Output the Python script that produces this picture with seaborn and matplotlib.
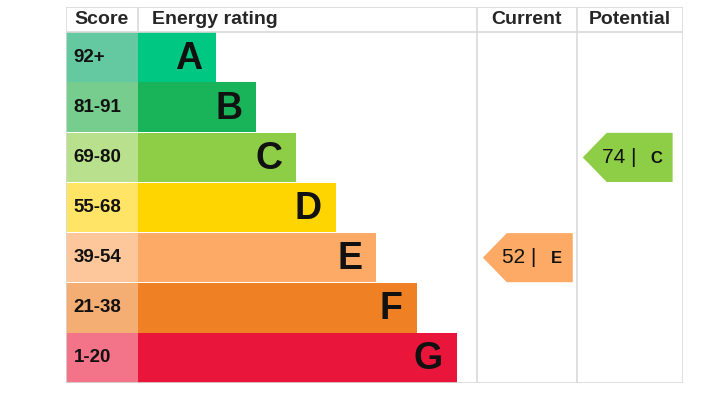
import matplotlib
matplotlib.use('Agg')
import matplotlib.pyplot as plt
import seaborn as sns
import pandas as pd
from matplotlib.patches import Polygon

# EPC bands, top (best) to bottom (worst)
bands = ['A', 'B', 'C', 'D', 'E', 'F', 'G']
score_ranges = ['92+', '81-91', '69-80', '55-68', '39-54', '21-38', '1-20']
bar_lengths = [1.95, 2.95, 3.95, 4.95, 5.95, 6.97, 7.97]
bar_colors = ['#00c781', '#19b459', '#8dce46', '#ffd500', '#fcaa65', '#ef8023', '#e9153b']
score_colors = ['#64c9a1', '#76cd8d', '#b9e08c', '#ffe466', '#fdc79b', '#f4ad72', '#f37488']

current_score, current_band = 52, 'E'
potential_score, potential_band = 74, 'C'

# layout (1 x-unit = 40 px, 1 y-unit = one band row)
score_w = 1.8
cur_left, pot_left, right_edge = 8.475, 10.975, 13.625
grid_col = '#d9d9d9'

sns.set_style('white')
plt.rcParams['font.family'] = ['Liberation Sans', 'DejaVu Sans']

fig = plt.figure(figsize=(7.03, 4.09), dpi=100)
ax = fig.add_axes([66 / 703, 26 / 409, 617 / 703, 376 / 409])

df = pd.DataFrame({'band': bands, 'length': bar_lengths, 'score': score_ranges})
df['score_cell'] = -score_w

sns.barplot(data=df, x='length', y='band', hue='band', palette=bar_colors,
            orient='h', width=0.99, saturation=1, legend=False, linewidth=0, ax=ax)
sns.barplot(data=df, x='score_cell', y='band', hue='band', palette=score_colors,
            orient='h', width=0.99, saturation=1, legend=False, linewidth=0, ax=ax)

for i, row in df.iterrows():
    ax.text(row['length'] - 0.35, i + 0.03, row['band'], ha='right', va='center',
            fontsize=27, fontweight='bold', color='#111111')
    ax.text(-score_w + 0.18, i, row['score'], ha='left', va='center',
            fontsize=13.5, fontweight='bold', color='#111111')


def rating_arrow(col_left, score, band):
    i = bands.index(band)
    tip = col_left + 0.15
    shoulder = tip + 0.6
    end = tip + 2.25
    top, bot = i - 0.49, i + 0.49
    poly = Polygon([(tip, i), (shoulder, top), (end, top), (end, bot), (shoulder, bot)],
                   closed=True, facecolor=bar_colors[i], edgecolor='none', zorder=3)
    ax.add_patch(poly)
    ax.text(tip + 0.47, i, f'{score} |', ha='left', va='center', fontsize=15,
            color='#111111', zorder=4)
    ax.text(tip + 1.84, i + 0.02, band, ha='center', va='center', fontsize=12,
            fontweight='bold', color='#111111', zorder=4)


rating_arrow(cur_left, current_score, current_band)
rating_arrow(pot_left, potential_score, potential_band)

# headers
ax.text(-score_w + 0.2, -0.75, 'Score', ha='left', va='center', fontsize=14, fontweight='bold')
ax.text(0.35, -0.75, 'Energy rating', ha='left', va='center', fontsize=14, fontweight='bold')
ax.text((cur_left + pot_left) / 2, -0.75, 'Current', ha='center', va='center',
        fontsize=14, fontweight='bold')
ax.text((pot_left + right_edge) / 2, -0.75, 'Potential', ha='center', va='center',
        fontsize=14, fontweight='bold')

# table grid
lw = 1.2
ax.plot([-score_w, right_edge], [-1.0, -1.0], color=grid_col, lw=lw, zorder=1)
ax.plot([-score_w, right_edge], [-0.5, -0.5], color=grid_col, lw=lw, zorder=1)
ax.plot([-score_w, right_edge], [6.5, 6.5], color=grid_col, lw=lw, zorder=1)
ax.plot([-score_w, -score_w], [-1.0, 6.5], color=grid_col, lw=lw, zorder=1)
ax.plot([0, 0], [-1.0, -0.5], color=grid_col, lw=lw, zorder=1)
for xv in (cur_left, pot_left, right_edge):
    ax.plot([xv, xv], [-1.0, 6.5], color=grid_col, lw=lw, zorder=1)

ax.set_xlim(-score_w - 0.01, right_edge + 0.01)
ax.set_ylim(6.5, -1.0)
ax.set_xlabel('')
ax.set_ylabel('')
ax.set_xticks([])
ax.set_yticks([])
for s in ax.spines.values():
    s.set_visible(False)

fig.savefig('out.png', dpi=100)
plt.close()
